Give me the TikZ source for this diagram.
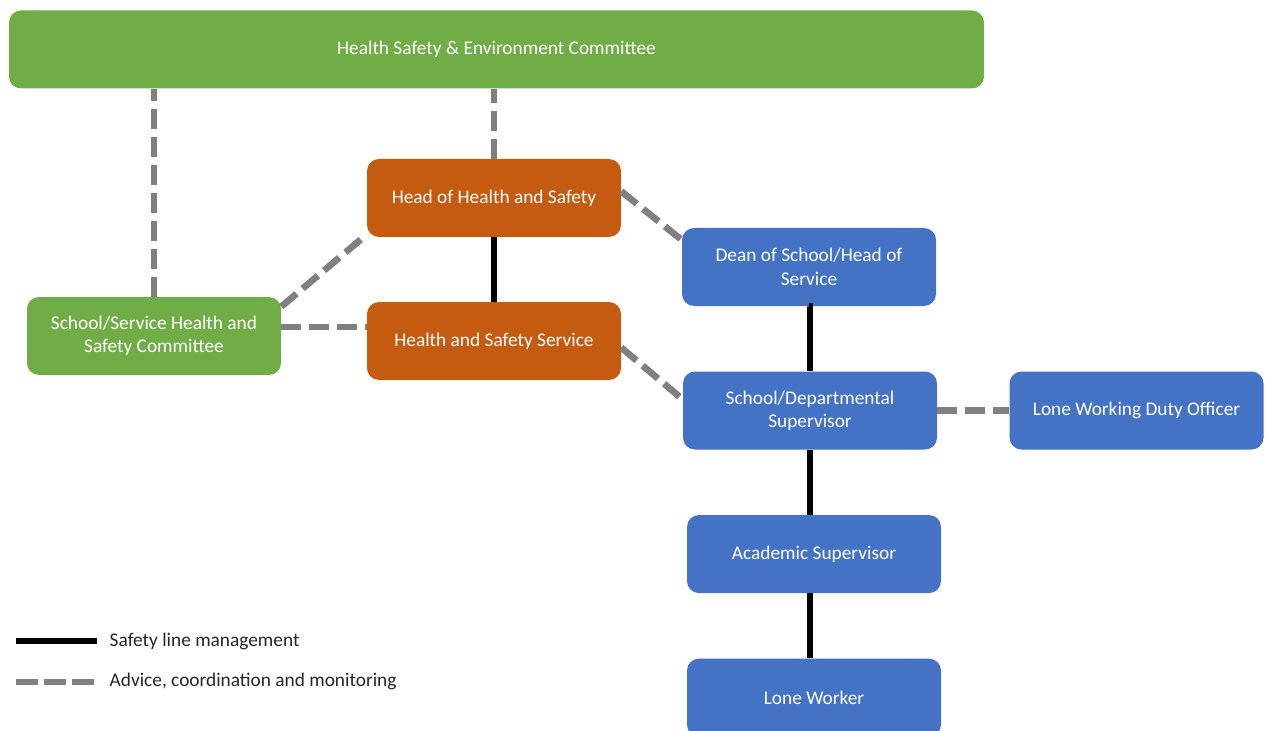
\documentclass[tikz,border=0pt]{standalone}
\usepackage{fontspec}
\setmainfont{Carlito}
\usepackage{xcolor}
\usepackage{tikz}
\usetikzlibrary{positioning}

\definecolor{hsegreen}{HTML}{70AD47}
\definecolor{hsorange}{HTML}{C55A11}
\definecolor{unitblue}{HTML}{4472C4}
\definecolor{advgray}{HTML}{808080}

\begin{document}
\begin{tikzpicture}[
        x=0.75pt, y=-0.75pt,
        node distance=48.75pt,
        font=\fontsize{14.5pt}{17.5pt}\selectfont,
        box/.style={rounded corners=9pt, minimum width=190.5pt, minimum height=58.5pt, align=center, text=white},
        greenbox/.style={box, fill=hsegreen},
        orangebox/.style={box, fill=hsorange},
        bluebox/.style={box, fill=unitblue},
        mgmt/.style={line width=5pt, black},
        advice/.style={line width=5pt, advgray, dash pattern=on 15pt off 6pt}
    ]
        \useasboundingbox (0,0) rectangle (1268,731);

        \node[greenbox, minimum width=731.25pt] (hse) at (496.5,49.5) {Health Safety \& Environment Committee};
        \node[orangebox] (head) at (494,198) {Head of Health and Safety};
        \node[orangebox] (service) at (494,341) {Health and Safety Service};
        \node[greenbox] (committee) at (154,336) {School/Service Health and\\Safety Committee};

        \node[bluebox] (dean) at (809,267) {Dean of School/Head of\\Service};
        \node[bluebox, below=of dean, xshift=0.75pt] (sup) {School/Departmental\\Supervisor};
        \node[bluebox, right=54pt of sup] (duty) {Lone Working Duty Officer};
        \node[bluebox, below=of sup, xshift=3pt] (academic) {Academic Supervisor};
        \node[bluebox, below=of academic] (worker) {Lone Worker};

        % safety line management
        \draw[mgmt] (head.south) -- (service.north);
        \draw[mgmt] (dean.south) -- (sup.south |- dean.south) -- (sup.north);
        \draw[mgmt] (sup.south) -- (sup.south |- academic.north);
        \draw[mgmt] (sup.south |- academic.south) -- (sup.south |- worker.north);

        % advice, coordination and monitoring
        \draw[advice] (committee.north) -- (committee.north |- hse.south);
        \draw[advice] (head.north) -- (head.north |- hse.south);
        \draw[advice] (head.3) -- (dean.168);
        \draw[advice] (service.357) -- (sup.175);
        \draw[advice] (committee.13) -- (head.196);
        \draw[advice] (committee.4) -- (committee.4 -| service.west);
        \draw[advice] (sup.east) -- (duty.west);

        % key
        \node[anchor=west, text=black!85] (mgmtkey) at (105,641) {Safety line management};
        \node[anchor=west, text=black!85] (advicekey) at (105,681) {Advice, coordination and monitoring};
        \coordinate (mgmtstart) at (16,641);
        \coordinate (advicestart) at (16,682);
        \draw[mgmt, line width=4.5pt] (mgmtstart) -- ([xshift=-6pt]mgmtstart -| mgmtkey.west);
        \draw[advice, dash pattern=on 16.5pt off 4.5pt] (advicestart) -- ([xshift=-6pt]advicestart -| advicekey.west);
    \end{tikzpicture}
\end{document}
